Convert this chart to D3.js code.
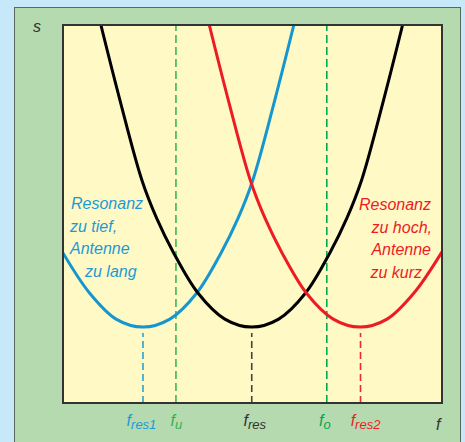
<!DOCTYPE html>
<html><head><meta charset="utf-8">
<script src="https://cdn.jsdelivr.net/npm/d3@7"></script>
<style>
html,body{margin:0;padding:0;background:#c6e8f8;}
svg{display:block;}
text{font-family:"Liberation Sans",Arial,sans-serif;font-style:italic;}
</style></head>
<body>
<svg id="c" width="465" height="442"></svg>
<script>
// curve samples (f, s)
const blueF  = [0, 7.0, 14.0, 21.1, 28.2, 35.3, 41.7, 46.2, 50.1, 55.9, 60.9];
const blueS  = [39.7, 29.1, 22.2, 20.1, 22.2, 29.1, 39.7, 48.9, 59.0, 80.2, 100];
const blackF = [10.0, 15.0, 20.8, 24.7, 29.2, 35.6, 42.7, 49.8, 56.9, 64.0, 70.4, 74.9, 78.8, 84.6, 89.6];
const blackS = [100, 80.2, 59.0, 48.9, 39.7, 29.1, 22.2, 20.1, 22.2, 29.1, 39.7, 48.9, 59.0, 80.2, 100];
const redF   = [38.6, 43.6, 49.4, 53.3, 57.8, 64.2, 71.3, 78.4, 85.5, 92.6, 100];
const redS   = [100, 80.2, 59.0, 48.9, 39.7, 29.1, 22.2, 20.1, 22.2, 29.1, 40.0];

// marker frequencies
const markNames = ["res1", "u", "res", "o", "res2"];
const markF     = [21.1, 29.8, 49.8, 69.6, 78.5];
const markTop   = [18.5, 100, 18.5, 100, 18.5];

const leftText  = ["Resonanz", "zu tief,", "Antenne", "zu lang"];
const rightText = ["Resonanz", "zu hoch,", "Antenne", "zu kurz"];

const svg = d3.select("#c");
const X0 = 63, X1 = 442, Y0 = 25, Y1 = 403;
const x = d3.scaleLinear().domain([0, 100]).range([X0, X1]);
const y = d3.scaleLinear().domain([0, 100]).range([Y1, Y0]);

// outer green panel
svg.append("rect").attr("x", 14.5).attr("y", 7.5).attr("width", 446).attr("height", 460)
  .attr("fill", "#b5daaf").attr("stroke", "#5a6a5a").attr("stroke-width", 1);

// plot area
svg.append("rect").attr("x", X0).attr("y", Y0).attr("width", X1 - X0).attr("height", Y1 - Y0)
  .attr("fill", "#fff9c6");

svg.append("clipPath").attr("id", "clip").append("rect")
  .attr("x", X0).attr("y", Y0).attr("width", X1 - X0).attr("height", Y1 - Y0);

const markColors = ["#2aa0d0", "#3cb55a", "#444", "#00a850", "#ee2a30"];
const labelColors = ["#1b9ad5", "#35b04a", "#333", "#00a650", "#ec1c24"];
const dash = ["7,4", "8,4", "7,4", "8,4", "7,4"];

const g = svg.append("g").attr("clip-path", "url(#clip)");

markF.forEach((f, i) => {
  g.append("line").attr("x1", x(f)).attr("x2", x(f))
    .attr("y1", y(0)).attr("y2", y(markTop[i]))
    .attr("stroke", markColors[i]).attr("stroke-width", 1.6)
    .attr("stroke-dasharray", dash[i]);
});

const line = d3.line().x(d => x(d[0])).y(d => y(d[1])).curve(d3.curveCatmullRom.alpha(0.5));
const series = [
  {f: blueF, s: blueS, c: "#1596cf"},
  {f: blackF, s: blackS, c: "#000"},
  {f: redF, s: redS, c: "#ed1c24"}
];
series.forEach(se => {
  g.append("path").datum(se.f.map((v, i) => [v, se.s[i]]))
    .attr("d", line).attr("fill", "none").attr("stroke", se.c).attr("stroke-width", 3);
});

// frame
svg.append("rect").attr("x", X0).attr("y", Y0).attr("width", X1 - X0).attr("height", Y1 - Y0)
  .attr("fill", "none").attr("stroke", "#333").attr("stroke-width", 2);

// axis labels
svg.append("text").attr("x", 33).attr("y", 32).attr("font-size", 16).attr("fill", "#333").text("s");
svg.append("text").attr("x", 436).attr("y", 430).attr("font-size", 16).attr("fill", "#333").text("f");

// marker labels
const labelShift = [-1.5, 0.5, 3, -2, 5];
markF.forEach((f, i) => {
  const t = svg.append("text").attr("x", x(f) + labelShift[i]).attr("y", 426)
    .attr("text-anchor", "middle").attr("fill", labelColors[i]).attr("font-size", 16);
  t.append("tspan").text("f");
  t.append("tspan").attr("font-size", 13).attr("dy", 3).text(markNames[i]);
});

// annotations
const lt = svg.append("text").attr("fill", "#1b9ad5").attr("font-size", 16);
const leftX = [71, 70, 70, 85];
leftText.forEach((s, i) => lt.append("tspan").attr("x", leftX[i]).attr("y", 209 + i * 22.6).text(s));

const rt = svg.append("text").attr("fill", "#ec1c24").attr("font-size", 16).attr("text-anchor", "end");
const rightX = [431, 432, 431, 422];
rightText.forEach((s, i) => rt.append("tspan").attr("x", rightX[i]).attr("y", 210 + i * 22.6).text(s));
</script>
</body></html>
